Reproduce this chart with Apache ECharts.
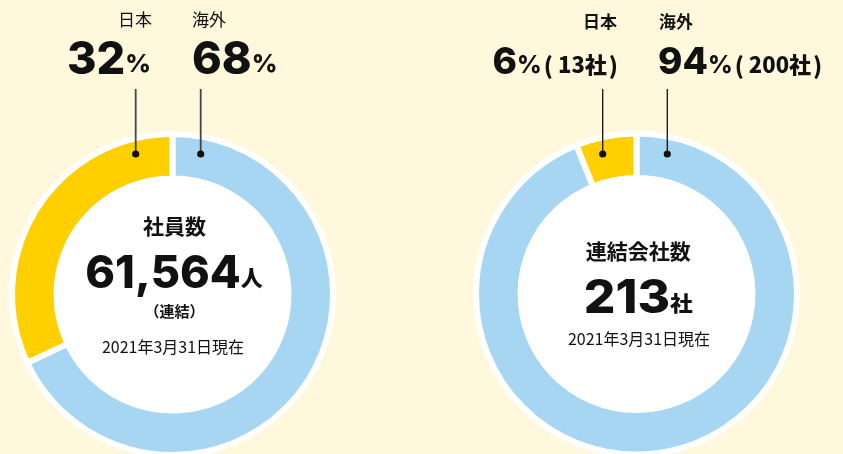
<!DOCTYPE html>
<html>
<head>
<meta charset="utf-8">
<script src="https://cdn.jsdelivr.net/npm/echarts@6/dist/echarts.min.js"></script>
<style>
  html, body { margin: 0; padding: 0; background: #fff8dc; }
  #chart { width: 843px; height: 454px; }
</style>
</head>
<body>
<div id="chart"></div>
<script>
// Regions, in drawing order (clockwise from 12 o'clock)
const regions = ['海外', '日本'];
const regionColors = ['#a6d6f2', '#ffcf00'];

// Employees (consolidated), share by region in %
const employeeShare = [68, 32];
const employeeTotal = 61564;

// Consolidated subsidiaries: count and share by region
const companyCount = [200, 13];
const companyShare = [94, 6];

const asOfDate = '2021年3月31日現在';

const CJK = '"Noto Sans CJK JP", "Noto Sans", sans-serif';
const NUM = 'Inter, Roboto, "Noto Sans CJK JP", sans-serif';

const chart = echarts.init(document.getElementById('chart'), null, { renderer: 'canvas' });

const ring = { inner: 116, outer: 160.5 };
const left = { cx: 172.5, cy: 294.5 };
const right = { cx: 636.5, cy: 294 };

function donut(center, values) {
  return [
    {
      type: 'pie', silent: true, animation: false, z: 1,
      center: [center.cx, center.cy], radius: [0, ring.inner],
      label: { show: false }, labelLine: { show: false },
      itemStyle: { color: '#ffffff' },
      data: [{ value: 1 }]
    },
    {
      type: 'pie', silent: true, animation: false, z: 2,
      center: [center.cx, center.cy], radius: [ring.inner, ring.outer],
      startAngle: 90, clockwise: true,
      label: { show: false }, labelLine: { show: false },
      itemStyle: { borderColor: '#ffffff', borderWidth: 6 },
      data: regions.map((name, i) => ({ name, value: values[i], itemStyle: { color: regionColors[i] } }))
    }
  ];
}

function leader(x, color, w) {
  return [
    { type: 'line', silent: true, z: 10, shape: { x1: x, y1: 89, x2: x, y2: 154 }, style: { stroke: color, lineWidth: w } },
    { type: 'circle', silent: true, z: 10, shape: { cx: x, cy: 154, r: 3.6 }, style: { fill: '#111' } }
  ];
}

function txt(x, y, text, align, vAlign, rich, base, sx) {
  return {
    type: 'text', silent: true, z: 10, x, y, scaleX: sx || 1,
    style: Object.assign({ text, align, verticalAlign: vAlign, fill: '#111', rich }, base || {})
  };
}

const big = (size) => ({ fontFamily: NUM, fontWeight: 800, fontSize: size, verticalAlign: 'bottom', lineHeight: size * 1.2 });
const small = (size, pad, fam, padL, padR) => ({
  fontFamily: fam || NUM, fontWeight: 800, fontSize: size, verticalAlign: 'bottom',
  lineHeight: size * 1.2, padding: [0, padR || 0, pad, padL || 0]
});

const fmt = (n) => n.toLocaleString('en-US');

const parenRich = {
  n: big(37), p: small(24, 4), c: small(22, 6, CJK),
  bl: small(23, 5, CJK, 2, 5), br: small(23, 5, CJK, 2, 0)
};

const graphics = [
  // left donut labels
  ...leader(135.7, '#444', 1.8),
  ...leader(200.7, '#444', 1.8),
  txt(152, 20, regions[1], 'right', 'middle', null, { font: `normal 17px ${CJK}` }),
  txt(192, 20, regions[0], 'left', 'middle', null, { font: `normal 17px ${CJK}` }),
  txt(151, 83, `{n|${employeeShare[1]}}{p|%}`, 'right', 'bottom', { n: big(45), p: small(25, 6) }),
  txt(192, 83, `{n|${employeeShare[0]}}{p|%}`, 'left', 'bottom', { n: big(45), p: small(25, 6) }),

  // right donut labels
  ...leader(602.7, '#111', 1.3),
  ...leader(667.3, '#111', 1.3),
  txt(617, 21.5, regions[1], 'right', 'middle', null, { font: `bold 17px ${CJK}` }),
  txt(659, 21.5, regions[0], 'left', 'middle', null, { font: `bold 17px ${CJK}` }),
  txt(618, 81.5, `{n|${companyShare[1]}}{p|%}{bl|(}{c|${companyCount[1]}社}{br|)}`, 'right', 'bottom', parenRich),
  txt(658, 81.5, `{n|${companyShare[0]}}{p|%}{bl|(}{c|${companyCount[0]}社}{br|)}`, 'left', 'bottom', parenRich),

  // left centre
  txt(174.5, 226, '社員数', 'center', 'middle', null, { font: `bold 21px ${CJK}` }),
  txt(174, 297, `{n|${fmt(employeeTotal)}}{u|人}`, 'center', 'bottom', { n: big(45), u: small(22, 8, CJK) }),
  txt(174.5, 311.5, '（連結）', 'center', 'middle', null, { font: `bold 15px ${CJK}` }),
  txt(173, 346.5, asOfDate, 'center', 'middle', null, { font: `normal 16px ${CJK}` }),

  // right centre
  txt(638.3, 251.5, '連結会社数', 'center', 'middle', null, { font: `bold 21px ${CJK}` }),
  txt(638.3, 322, `{n|${companyCount[0] + companyCount[1]}}{u|社}`, 'center', 'bottom', { n: big(46), u: small(21, 8, CJK) }, null, 1.08),
  txt(639, 338.5, asOfDate, 'center', 'middle', null, { font: `normal 16px ${CJK}` })
];

chart.setOption({
  backgroundColor: '#fff8dc',
  animation: false,
  series: [...donut(left, employeeShare), ...donut(right, companyCount)],
  graphic: graphics
});
</script>
</body>
</html>
